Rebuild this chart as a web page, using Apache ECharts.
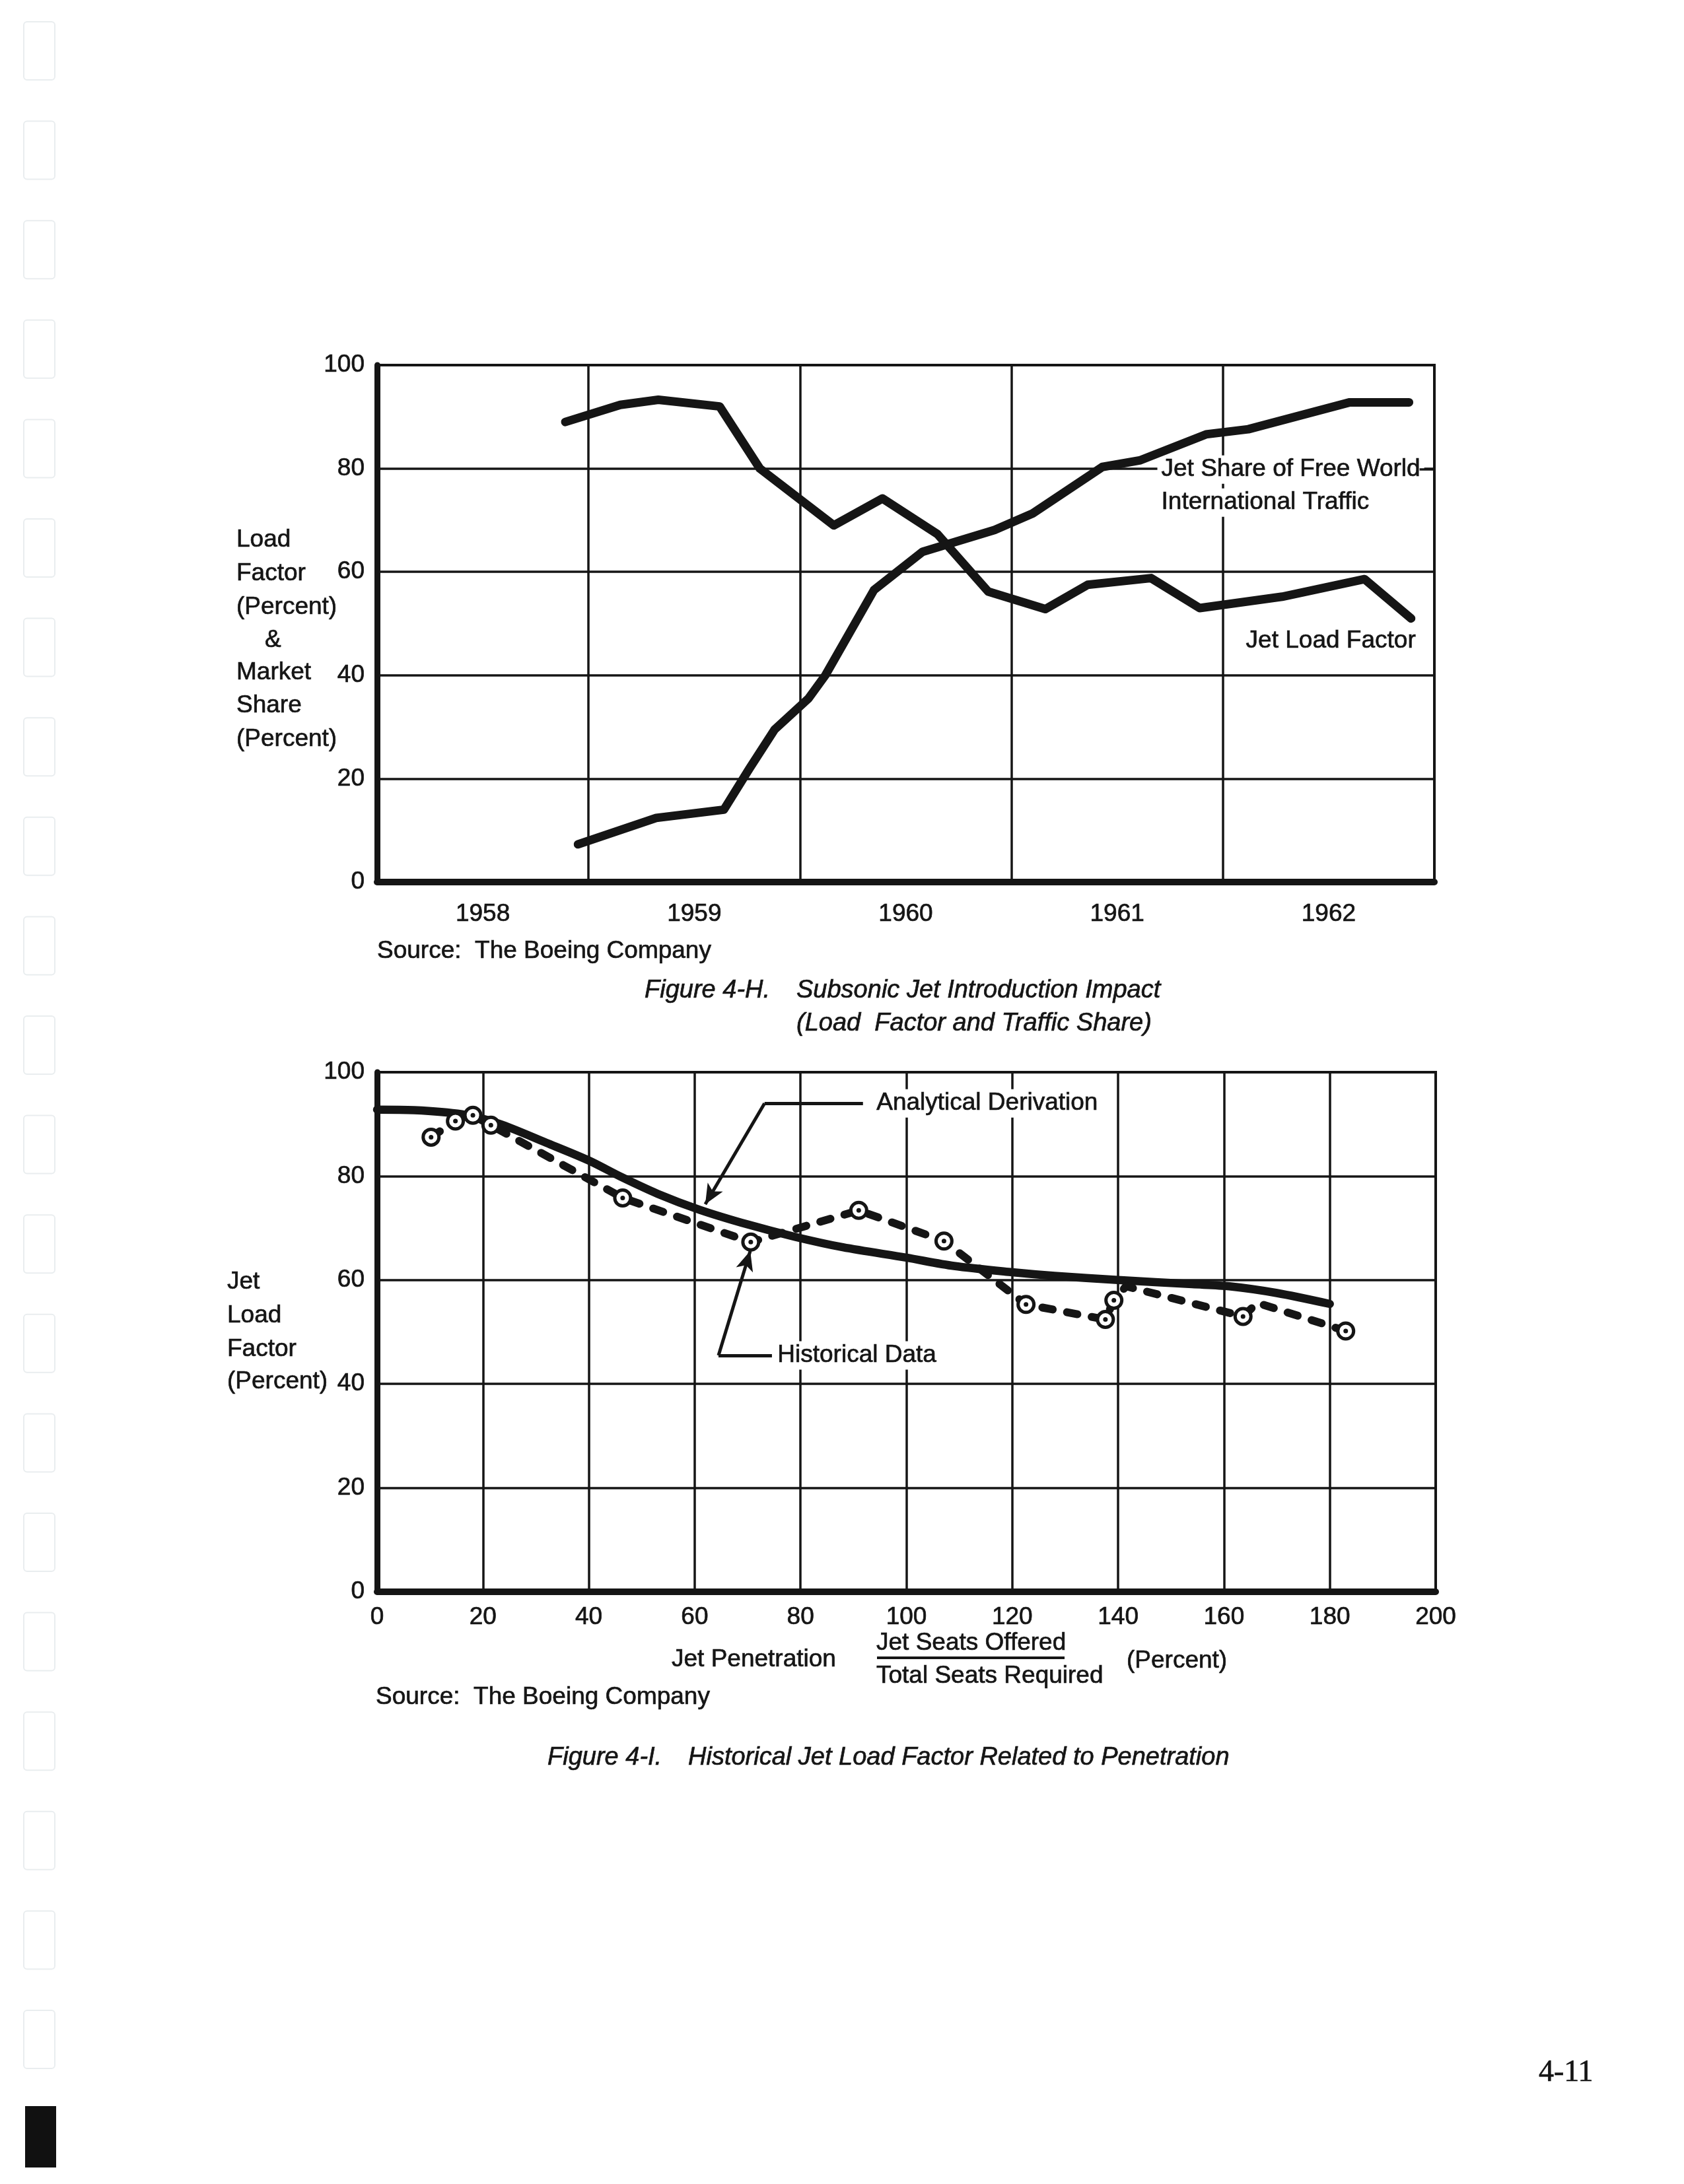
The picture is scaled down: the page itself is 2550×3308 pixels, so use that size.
<!DOCTYPE html>
<html><head><meta charset="utf-8">
<script src="https://cdn.jsdelivr.net/npm/echarts@6/dist/echarts.min.js"></script>
<style>html,body{margin:0;padding:0;background:#fff}#c{width:2550px;height:3308px}</style>
</head><body><div id="c"></div>
<script>
// ---------- Figure 4-H data ----------
const years = ['1958', '1959', '1960', '1961', '1962'];
const loadFactorX = [1958.89, 1959.15, 1959.33, 1959.62, 1959.81, 1960.16, 1960.39, 1960.65, 1960.89, 1961.16, 1961.36, 1961.66, 1961.89, 1962.28, 1962.67, 1962.89];
const loadFactorY = [89.0, 92.3, 93.3, 92.0, 80.0, 69.0, 74.2, 67.3, 56.2, 52.8, 57.5, 58.8, 53.0, 55.2, 58.6, 51.0];
const jetShareX = [1958.95, 1959.32, 1959.64, 1959.76, 1959.88, 1960.04, 1960.12, 1960.35, 1960.58, 1960.92, 1961.10, 1961.43, 1961.61, 1961.92, 1962.12, 1962.60, 1962.88];
const jetShareY = [7.3, 12.4, 14.0, 21.9, 29.5, 35.5, 40.0, 56.5, 63.9, 68.1, 71.3, 80.3, 81.6, 86.6, 87.6, 92.8, 92.8];

// ---------- Figure 4-I data ----------
const analyticalX = [0, 7, 16, 23, 32, 40, 46, 53, 61, 70, 79, 88, 100, 109, 120, 128, 140, 154, 161, 170, 180];
const analyticalY = [92.8, 92.7, 91.9, 90.1, 86.4, 83.0, 79.9, 76.6, 73.5, 70.7, 68.3, 66.3, 64.3, 62.7, 61.5, 60.8, 60.0, 59.2, 58.8, 57.5, 55.4];
const historicalX = [10.2, 14.8, 18.1, 21.5, 46.4, 70.6, 91.0, 107.1, 122.6, 137.6, 139.2, 163.6, 183.0];
const historicalY = [87.5, 90.6, 91.7, 89.8, 75.8, 67.3, 73.4, 67.5, 55.3, 52.4, 56.1, 53.0, 50.2];
const historicalBendX = [141.5, 166.3];
const historicalBendY = [58.8, 55.6];

const INK = '#151515';
const FONT = '"Liberation Sans", Arial, Helvetica, sans-serif';

const zip = (xs, ys) => xs.map((x, i) => [x, ys[i]]);
const histLine = zip(historicalX, historicalY).concat(zip(historicalBendX, historicalBendY)).sort((a, b) => a[0] - b[0]);

const chart = echarts.init(document.getElementById('c'), null, {renderer: 'canvas', width: 2550, height: 3308});

const splitStyle = {show: true, lineStyle: {color: INK, width: 3.5, type: 'solid'}};
const labelStyle = (m) => ({color: INK, fontSize: 37, fontFamily: FONT, margin: m, textBorderColor: INK, textBorderWidth: 0.7});
const yAxisCommon = {
  type: 'value', min: 0, max: 100, interval: 20,
  axisLine: {show: true, onZero: false, lineStyle: {color: INK, width: 9}},
  axisTick: {show: false},
  splitLine: splitStyle,
  axisLabel: labelStyle(19)
};

const option = {
  animation: false,
  backgroundColor: '#ffffff',
  grid: [
    {left: 571, top: 553, width: 1601, height: 783, show: true, borderColor: INK, borderWidth: 4, backgroundColor: 'rgba(0,0,0,0)', containLabel: false, outerBoundsMode: 'none'},
    {left: 571, top: 1624, width: 1603, height: 787, show: true, borderColor: INK, borderWidth: 4, backgroundColor: 'rgba(0,0,0,0)', containLabel: false, outerBoundsMode: 'none'}
  ],
  xAxis: [
    {type: 'category', gridIndex: 0, data: years, boundaryGap: true,
     axisLine: {show: true, lineStyle: {color: INK, width: 10}}, axisTick: {show: false},
     splitLine: splitStyle,
     axisLabel: labelStyle(30)},
    {type: 'value', gridIndex: 0, min: 1958, max: 1963, show: false},
    {type: 'value', gridIndex: 1, min: 0, max: 200, interval: 20,
     axisLine: {show: true, onZero: false, lineStyle: {color: INK, width: 10}}, axisTick: {show: false},
     splitLine: splitStyle,
     axisLabel: labelStyle(20)}
  ],
  yAxis: [
    Object.assign({gridIndex: 0}, yAxisCommon),
    Object.assign({gridIndex: 1}, yAxisCommon)
  ],
  series: [
    {name: 'Jet Load Factor', type: 'line', xAxisIndex: 1, yAxisIndex: 0, data: zip(loadFactorX, loadFactorY),
     symbol: 'none', z: 3, lineStyle: {color: INK, width: 13, cap: 'round', join: 'round'}},
    {name: 'Jet Share of Free World International Traffic', type: 'line', xAxisIndex: 1, yAxisIndex: 0, data: zip(jetShareX, jetShareY),
     symbol: 'none', z: 3, lineStyle: {color: INK, width: 13, cap: 'round', join: 'round'},
     markLine: {silent: true, symbol: 'none', label: {show: false}, lineStyle: {color: INK, width: 3.5, type: 'solid'},
       data: [[{coord: [1962.93, 79.8]}, {coord: [1963, 79.8]}]]}},
    {name: 'Analytical Derivation', type: 'line', xAxisIndex: 2, yAxisIndex: 1, data: zip(analyticalX, analyticalY),
     symbol: 'none', smooth: 0.3, z: 3, lineStyle: {color: INK, width: 12.5, cap: 'round', join: 'round'},
     markLine: {silent: true, symbol: 'none', label: {show: false}, lineStyle: {color: INK, width: 5, type: 'solid'},
       symbolSize: [20, 30],
       data: [
         [{coord: [73.2, 94.0], symbol: 'none'}, {coord: [91.8, 94.0], symbol: 'none'}],
         [{coord: [73.2, 94.0], symbol: 'none'}, {coord: [62.0, 74.6], symbol: 'arrow'}],
         [{coord: [64.5, 45.5], symbol: 'none'}, {coord: [74.6, 45.5], symbol: 'none'}],
         [{coord: [64.5, 45.5], symbol: 'none'}, {coord: [70.5, 65.6], symbol: 'arrow'}]
       ]}},
    {name: 'Historical Data', type: 'line', xAxisIndex: 2, yAxisIndex: 1, data: histLine,
     symbol: 'none', z: 4, lineStyle: {color: INK, width: 12, type: [16, 22], cap: 'round', join: 'round'}},
    {name: 'Historical Points', type: 'scatter', xAxisIndex: 2, yAxisIndex: 1, data: zip(historicalX, historicalY),
     symbol: 'circle', symbolSize: 24, z: 5, itemStyle: {color: '#ffffff', borderColor: INK, borderWidth: 5, opacity: 1}},
    {name: 'Historical Dots', type: 'scatter', xAxisIndex: 2, yAxisIndex: 1, data: zip(historicalX, historicalY),
     symbol: 'circle', symbolSize: 7, z: 6, itemStyle: {color: INK, opacity: 1}}
  ]
};
chart.setOption(option);

function text(str, x, y, o) {
  o = o || {};
  const style = {
    text: str, fill: INK, stroke: INK, lineWidth: 0.7,
    font: (o.italic ? 'italic ' : '') + (o.size || 37) + 'px ' + (o.family || FONT),
    textAlign: o.align || 'left', align: o.align || 'left',
    textVerticalAlign: 'middle', verticalAlign: 'middle'
  };
  if (o.bg) { style.backgroundColor = '#ffffff'; style.padding = [3, 6]; }
  return {type: 'text', x: x, y: y, z: o.z != null ? o.z : 10, style: style, silent: true};
}
function at(seriesIndex, pt) { return chart.convertToPixel({seriesIndex: seriesIndex}, pt); }

const g = [];
// left margin tab outlines (scan artefacts)
for (let i = 0; i < 21; i++) {
  g.push({type: 'rect', silent: true, shape: {x: 36, y: 33 + i * 150.6, width: 47, height: 88, r: 5},
    style: {fill: 'none', stroke: '#e9edef', lineWidth: 2}});
}
g.push({type: 'rect', silent: true, shape: {x: 38, y: 3190, width: 47, height: 93}, style: {fill: '#111111'}});

// Figure 4-H axis title
const topName = [['Load', 358, 818], ['Factor', 358, 869], ['(Percent)', 358, 920], ['&', 401, 970], ['Market', 358, 1019], ['Share', 358, 1069], ['(Percent)', 358, 1120]];
topName.forEach(t => g.push(text(t[0], t[1], t[2])));
// chart labels in data coordinates
let p = at(1, [1961.69, 79.8]); g.push(text('Jet Share of Free World', p[0], p[1], {bg: true, z: 1}));
p = at(1, [1961.69, 73.4]); g.push(text('International Traffic', p[0], p[1], {bg: true, z: 1}));
p = at(0, [1962.09, 46.6]); g.push(text('Jet Load Factor', p[0], p[1], {bg: true, z: 1}));
g.push(text('Source:  The Boeing Company', 571, 1441));
g.push(text('Figure 4-H.', 976, 1500, {italic: true, size: 38}));
g.push(text('Subsonic Jet Introduction Impact', 1206, 1500, {italic: true, size: 38}));
g.push(text('(Load  Factor and Traffic Share)', 1206, 1550, {italic: true, size: 38}));

// Figure 4-I axis title
const botName = [['Jet', 344, 1942], ['Load', 344, 1993], ['Factor', 344, 2044], ['(Percent)', 344, 2093]];
botName.forEach(t => g.push(text(t[0], t[1], t[2])));
p = at(2, [93.6, 94.0]); g.push(text('Analytical Derivation', p[0], p[1], {bg: true, z: 1}));
p = at(2, [74.9, 45.5]); g.push(text('Historical Data', p[0], p[1], {bg: true, z: 1}));
g.push(text('Jet Penetration', 1017, 2514));
g.push(text('Jet Seats Offered', 1327, 2489));
g.push({type: 'line', silent: true, shape: {x1: 1328, y1: 2511, x2: 1612, y2: 2511}, style: {stroke: INK, lineWidth: 4}});
g.push(text('Total Seats Required', 1327, 2539));
g.push(text('(Percent)', 1706, 2516));
g.push(text('Source:  The Boeing Company', 569, 2571));
g.push(text('Figure 4-I.', 829, 2662, {italic: true, size: 38}));
g.push(text('Historical Jet Load Factor Related to Penetration', 1042, 2662, {italic: true, size: 38}));

// page number
g.push(text('4-11', 2330, 3140, {size: 46, family: '"Liberation Serif", "Times New Roman", serif'}));

chart.setOption({graphic: {elements: g}});
</script>
</body></html>
